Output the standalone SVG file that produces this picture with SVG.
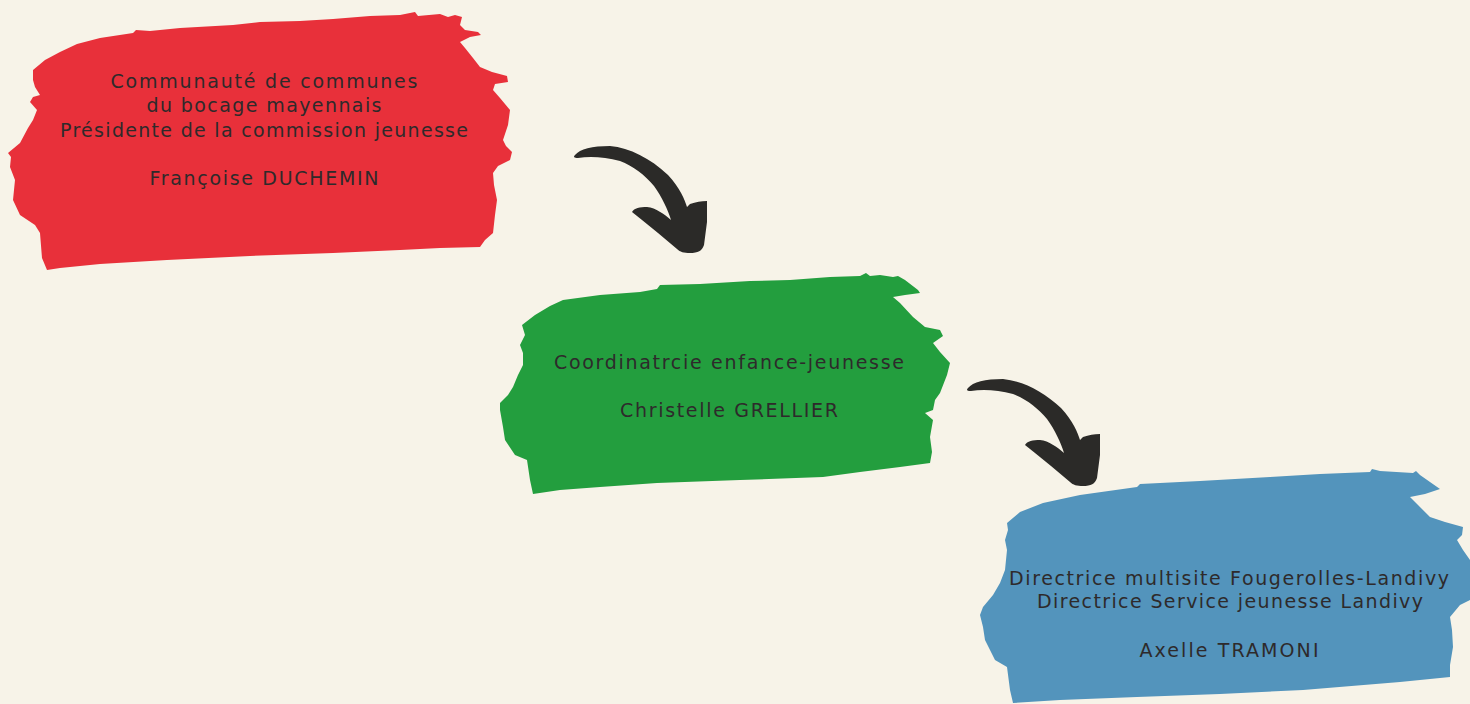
<svg xmlns="http://www.w3.org/2000/svg" width="1470" height="704" viewBox="0 0 1470 704">
<defs>
<style>
.lbl{font-family:"DejaVu Sans","Liberation Sans",sans-serif;font-size:19px;fill:#2e2a2b;text-anchor:middle}
.arrow{fill:#2b2a28}
</style>
<path id="arr" d="M575,155 C580,149 592,146 610,146 C630,148 650,158 668,175 C680,188 685,200 687,207 L690,204 C696,202 701,201 707,201 L707,222 L704,245 C702,251 698,253 690,253 C684,253 680,252 677,249 L658,233 L642,220 L632,212 C634,208 640,207 647,207 C656,208 664,214 671,220 C668,210 662,197 654,186 C645,175 633,166 620,161 C605,157 590,156 578,158 C574,158 573,157 575,155 Z"/>
</defs>
<rect width="1470" height="704" fill="#f7f3e8"/>
<g id="connectors">
<use href="#arr" class="arrow"/>
<use href="#arr" class="arrow" transform="translate(393,233)"/>
</g>
<g id="node-duchemin">
<path fill="#e8303a" d="M33,70 L45,60 L60,52 L77,44 L100,38 L133,33 L136,30 L150,31 L180,28 L233,25 L260,22 L300,21 L333,19 L370,16 L400,15 L415,12 L418,16 L440,14 L448,17 L455,15 L462,17 L460,25 L465,30 L478,32 L481,35 L470,37 L460,42 L465,48 L473,58 L480,67 L492,72 L507,76 L508,82 L495,84 L493,90 L500,98 L510,110 L508,125 L503,140 L506,146 L512,152 L510,160 L498,166 L493,173 L494,185 L497,200 L495,215 L493,233 L485,240 L480,247 L440,248 L400,250 L333,253 L250,256 L167,260 L100,264 L60,268 L47,270 L42,258 L40,233 L35,225 L20,215 L13,200 L15,180 L10,167 L11,157 L8,153 L20,143 L28,128 L33,120 L37,110 L30,102 L33,97 L40,95 L35,87 L33,80 Z"/>
<text class="lbl" x="264" y="88" textLength="307" lengthAdjust="spacing">Communauté de communes</text>
<text class="lbl" x="264" y="112" textLength="235" lengthAdjust="spacing">du bocage mayennais</text>
<text class="lbl" x="264" y="137" textLength="408" lengthAdjust="spacing">Présidente de la commission jeunesse</text>
<text class="lbl" x="264" y="185" textLength="229" lengthAdjust="spacing">Françoise DUCHEMIN</text>
</g>
<g id="node-grellier">
<path fill="#239e3e" d="M522,325 L535,315 L550,306 L563,300 L600,295 L640,292 L657,289 L660,285 L700,284 L750,281 L790,280 L830,277 L860,276 L866,273 L870,276 L880,275 L893,277 L898,276 L905,280 L918,290 L920,293 L905,295 L893,297 L900,303 L913,317 L925,327 L940,330 L943,336 L933,343 L940,352 L950,363 L947,375 L940,393 L935,400 L933,410 L925,413 L933,420 L930,437 L932,452 L930,463 L900,467 L860,472 L823,477 L740,480 L657,483 L600,487 L560,490 L533,494 L530,480 L527,460 L515,455 L505,440 L503,427 L500,410 L500,403 L508,395 L513,387 L518,375 L523,365 L523,353 L520,345 L525,335 Z"/>
<text class="lbl" x="729" y="369" textLength="350" lengthAdjust="spacing">Coordinatrcie enfance-jeunesse</text>
<text class="lbl" x="729" y="417" textLength="218" lengthAdjust="spacing">Christelle GRELLIER</text>
</g>
<g id="node-tramoni">
<path fill="#5394bc" d="M1007,523 L1020,512 L1043,503 L1080,495 L1137,487 L1140,484 L1200,481 L1270,477 L1320,474 L1370,472 L1372,469 L1380,471 L1413,473 L1416,471 L1420,475 L1440,489 L1425,494 L1410,497 L1418,505 L1430,517 L1445,522 L1463,527 L1462,535 L1457,540 L1463,550 L1470,560 L1470,600 L1460,605 L1450,617 L1452,630 L1453,647 L1450,665 L1450,677 L1400,682 L1303,690 L1220,694 L1137,697 L1060,700 L1013,703 L1010,690 L1007,667 L995,660 L985,640 L983,627 L980,615 L983,607 L993,595 L1000,583 L1005,570 L1007,550 L1005,540 L1008,530 Z"/>
<text class="lbl" x="1229" y="585" textLength="440" lengthAdjust="spacing">Directrice multisite Fougerolles-Landivy</text>
<text class="lbl" x="1230" y="608" textLength="386" lengthAdjust="spacing">Directrice Service jeunesse Landivy</text>
<text class="lbl" x="1229" y="657" textLength="179" lengthAdjust="spacing">Axelle TRAMONI</text>
</g>
</svg>
